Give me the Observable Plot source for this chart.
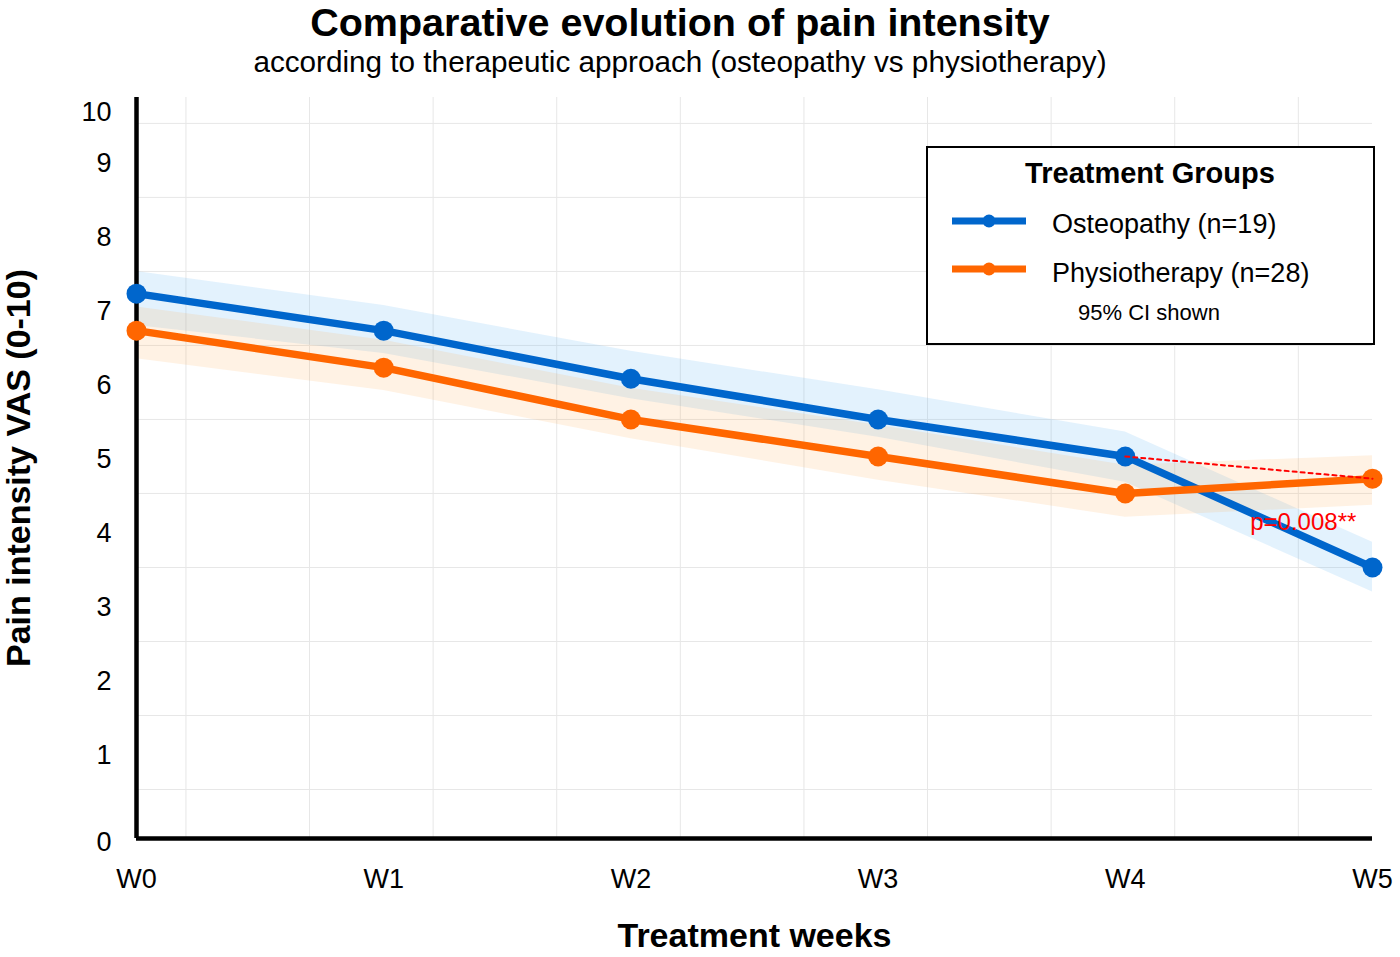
<!DOCTYPE html>
<html>
<head>
<meta charset="utf-8">
<script src="https://cdn.jsdelivr.net/npm/d3@7"></script>
<script src="https://cdn.jsdelivr.net/npm/@observablehq/plot@0.6"></script>
<style>
  html, body { margin: 0; padding: 0; background: #fff; }
  body { font-family: "Liberation Sans", Arial, Helvetica, sans-serif; }
  #wrap { position: relative; width: 1400px; height: 957px; overflow: hidden; }
  #title { position: absolute; left: 0; top: 2px; width: 1360px; text-align: center;
           font-size: 39.5px; font-weight: bold; line-height: 40px; color: #000; }
  #subtitle { position: absolute; left: 0; top: 47px; width: 1360px; text-align: center;
              font-size: 29.7px; line-height: 30px; color: #000; }
  #chart { position: absolute; left: 0; top: 85px; }
  #legend { position: absolute; left: 926px; top: 146px; }
</style>
</head>
<body>
<div id="wrap">
  <div id="title">Comparative evolution of pain intensity</div>
  <div id="subtitle">according to therapeutic approach (osteopathy vs physiotherapy)</div>
  <div id="chart"></div>
  <svg id="legend" width="449" height="199" xmlns="http://www.w3.org/2000/svg"
       font-family="Liberation Sans, Arial, Helvetica, sans-serif">
    <rect x="1" y="1" width="447" height="197" fill="#fff" stroke="#000" stroke-width="2"></rect>
    <text x="224" y="37" text-anchor="middle" font-size="29" font-weight="bold">Treatment Groups</text>
    <line x1="26" x2="100" y1="75" y2="75" stroke="#0066CC" stroke-width="7"></line>
    <circle cx="63" cy="75" r="6.5" fill="#0066CC"></circle>
    <text x="126" y="87" font-size="27">Osteopathy (n=19)</text>
    <line x1="26" x2="100" y1="123" y2="123" stroke="#FF6600" stroke-width="7"></line>
    <circle cx="63" cy="123" r="6.5" fill="#FF6600"></circle>
    <text x="126" y="136" font-size="27">Physiotherapy (n=28)</text>
    <text x="223" y="174" text-anchor="middle" font-size="22">95% CI shown</text>
  </svg>
</div>
<script>
// ---- Data ----
const weeks = ["W0", "W1", "W2", "W3", "W4", "W5"];
const weekIndex = [0, 1, 2, 3, 4, 5];

const osteoMean = [7.2, 6.7, 6.05, 5.5, 5.0, 3.5];
const osteoLow  = [6.77, 6.39, 5.78, 5.26, 4.65, 3.17];
const osteoHigh = [7.50, 7.04, 6.42, 5.90, 5.33, 3.84];

const physioMean = [6.7, 6.2, 5.5, 5.0, 4.5, 4.7];
const physioLow  = [6.32, 5.89, 5.24, 4.68, 4.18, 4.34];
const physioHigh = [7.02, 6.57, 5.92, 5.42, 4.88, 5.01];

const yTickLabels = [1, 2, 3, 4, 5, 6, 7, 8, 9];
const yEndLabelsLow = [0];
const yEndLabelsHigh = [10];
const yDomain = [-0.162, 9.85];

const gridX = [0.2, 0.7, 1.2, 1.7, 2.2, 2.7, 3.2, 3.7, 4.2, 4.7];
const gridY = [0.5, 1.5, 2.5, 3.5, 4.5, 5.5, 6.5, 7.5, 8.5, 9.5];

const pValueLabel = ["p=0.008**"];
const pValueAt = { week: 4.72, value: 4.11 };

// ---- Build tables ----
const osteo = weekIndex.map(i => ({ i, mean: osteoMean[i], lo: osteoLow[i], hi: osteoHigh[i] }));
const physio = weekIndex.map(i => ({ i, mean: physioMean[i], lo: physioLow[i], hi: physioHigh[i] }));
const pLink = [
  { i: 4, v: osteoMean[4] },
  { i: 5, v: physioMean[5] }
];

const BLUE = "#0066CC";
const ORANGE = "#FF6600";
const FONT = "Liberation Sans, Arial, Helvetica, sans-serif";

const chart = Plot.plot({
  width: 1400,
  height: 872,
  marginLeft: 136,
  marginRight: 28,
  marginTop: 12,
  marginBottom: 119,
  style: { fontFamily: FONT, fontSize: "27px", color: "#000", background: "transparent" },
  x: { type: "linear", domain: [0, 5] },
  y: { type: "linear", domain: yDomain, clamp: true },
  marks: [
    // grid
    Plot.ruleX(gridX, { stroke: "#e7e7e7", strokeWidth: 1 }),
    Plot.ruleY(gridY, { stroke: "#e7e7e7", strokeWidth: 1 }),
    // CI bands
    Plot.areaY(osteo, { x: "i", y1: "lo", y2: "hi", fill: "#64B5F6", fillOpacity: 0.18 }),
    Plot.areaY(physio, { x: "i", y1: "lo", y2: "hi", fill: "#FFA94D", fillOpacity: 0.15 }),
    // axes lines
    Plot.ruleX([0], { stroke: "#000", strokeWidth: 4.5 }),
    Plot.ruleY([yDomain[0]], { stroke: "#000", strokeWidth: 4.5, x1: 0, x2: 5 }),
    // lines & dots
    Plot.lineY(osteo, { x: "i", y: "mean", stroke: BLUE, strokeWidth: 7.5, strokeLinejoin: "round" }),
    Plot.dot(osteo, { x: "i", y: "mean", r: 10, fill: BLUE }),
    Plot.lineY(physio, { x: "i", y: "mean", stroke: ORANGE, strokeWidth: 7.5, strokeLinejoin: "round" }),
    Plot.dot(physio, { x: "i", y: "mean", r: 10, fill: ORANGE }),
    // significance link
    Plot.line(pLink, { x: "i", y: "v", stroke: "#FF0000", strokeWidth: 2, strokeDasharray: "4,4" }),
    Plot.text(pValueLabel, { x: () => pValueAt.week, y: () => pValueAt.value, text: d => d,
      fill: "#FF0000", fontSize: 24, textAnchor: "middle" }),
    // axes
    Plot.axisX({ ticks: weekIndex, tickFormat: i => weeks[i], tickSize: 0, tickPadding: 30,
      fontSize: 27, label: null }),
    Plot.axisY({ ticks: yTickLabels, tickSize: 0, tickPadding: 25, fontSize: 27, label: null, dy: 3 }),
    Plot.text(yEndLabelsLow, { y: d => d, text: d => String(d), frameAnchor: "left", dx: -25,
      dy: 16, textAnchor: "end", fontSize: 27 }),
    Plot.text(yEndLabelsHigh, { y: d => d, text: d => String(d), frameAnchor: "left", dx: -25,
      dy: 15, textAnchor: "end", fontSize: 27 }),
    // axis titles
    Plot.text(["Pain intensity VAS (0-10)"], { frameAnchor: "left", dx: -117, rotate: -90,
      fontSize: 34, fontWeight: "bold", textAnchor: "middle" }),
    Plot.text(["Treatment weeks"], { frameAnchor: "bottom", dy: 108, fontSize: 34,
      fontWeight: "bold", textAnchor: "middle" })
  ]
});
document.getElementById("chart").appendChild(chart);
</script>
</body>
</html>
